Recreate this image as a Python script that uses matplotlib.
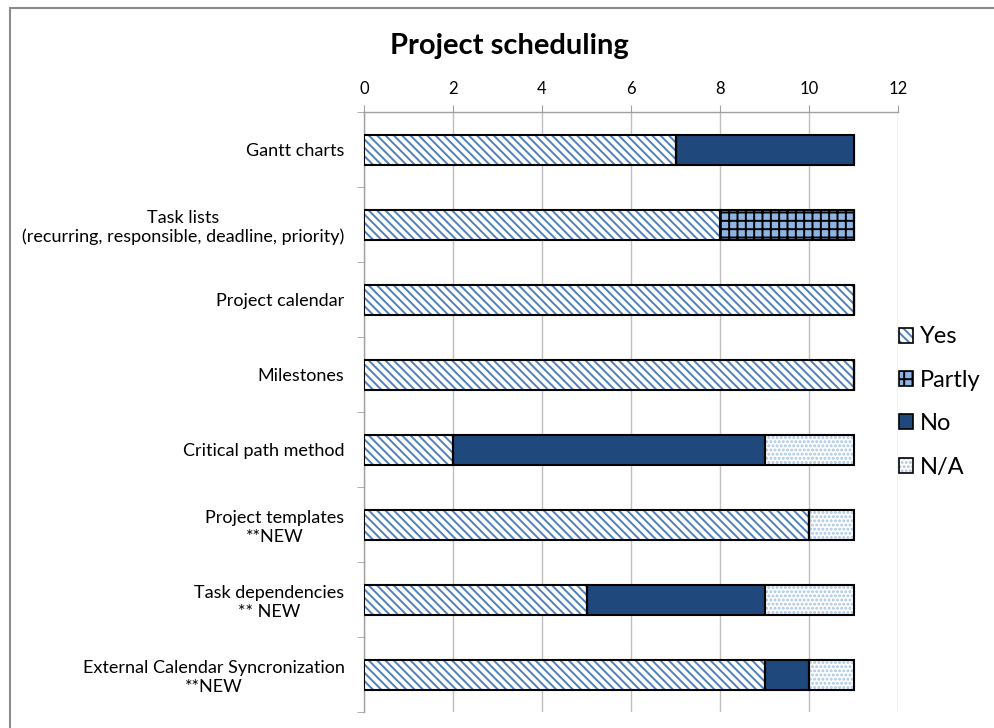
import matplotlib.pyplot as plt
import matplotlib.patches as mpatches
from matplotlib.legend_handler import HandlerTuple
import numpy as np

plt.rcParams['font.family'] = ['Lato', 'DejaVu Sans']
plt.rcParams['hatch.linewidth'] = 1.4

# ---------- data ----------
categories = [
    'Gantt charts',
    'Task lists\n(recurring, responsible, deadline, priority)',
    'Project calendar',
    'Milestones',
    'Critical path method',
    'Project templates\n**NEW',
    'Task dependencies\n** NEW',
    'External Calendar Syncronization\n**NEW',
]
yes = [7, 8, 11, 11, 2, 10, 5, 9]
partly = [0, 3, 0, 0, 0, 0, 0, 0]
no = [4, 0, 0, 0, 7, 0, 4, 1]
na = [0, 0, 0, 0, 2, 1, 2, 1]
xticks = [0, 2, 4, 6, 8, 10, 12]

series = [
    ('Yes', yes, 'white', '#4F81BD', '\\\\\\\\'),
    ('Partly', partly, '#8DB4E2', 'black', '++'),
    ('No', no, '#1F497D', '#1F497D', ''),
    ('N/A', na, 'white', '#A6C4E8', '....'),
]

fig = plt.figure(figsize=(9.95, 7.28), dpi=100)
ax = fig.add_axes([364 / 995, 1 - 712 / 728, (898 - 364) / 995, 600 / 728])

y = np.arange(len(categories))
left = np.zeros(len(categories))
handles = []
for name, vals, fc, hc, hatch in series:
    vals = np.array(vals, dtype=float)
    # hatch layer (edge colour drives hatch colour), then black outline
    ax.barh(y, vals, left=left, height=0.4, color=fc, edgecolor=hc,
            hatch=hatch, linewidth=0, zorder=3)
    ax.barh(y, vals, left=left, height=0.4, fill=False, edgecolor='black',
            linewidth=1.5, zorder=4)
    left += vals
    h1 = mpatches.Patch(facecolor=fc, edgecolor=hc, hatch=hatch, linewidth=0)
    h2 = mpatches.Patch(fill=False, edgecolor='black', linewidth=1.2)
    handles.append((h1, h2))

ax.set_xlim(0, 12)
ax.set_ylim(len(categories) - 0.5, -0.5)
ax.set_xticks(xticks)
ax.xaxis.tick_top()
ax.tick_params(axis='x', length=5, color='#A0A0A0', labelsize=12, pad=6)
ax.set_yticks(y)
ax.set_yticklabels(categories, fontsize=13, multialignment='center')
ax.tick_params(axis='y', which='major', length=0, pad=14)
ax.set_yticks(np.arange(len(categories) + 1) - 0.5, minor=True)
ax.tick_params(axis='y', which='minor', length=5, color='#A0A0A0')
ax.grid(axis='x', color='#BFBFBF', linewidth=1, zorder=0)
ax.set_axisbelow(True)
for s in ['right', 'bottom']:
    ax.spines[s].set_visible(False)
for s in ['left', 'top']:
    ax.spines[s].set_color('#A0A0A0')
    ax.spines[s].set_linewidth(1)

fig.text(509 / 995, 1 - 46 / 728, 'Project scheduling', ha='center', va='center',
         fontsize=21, fontweight='bold')

leg = fig.legend(handles, [s[0] for s in series], loc='center left',
                 bbox_to_anchor=(899 / 995, 1 - 402 / 728), frameon=False,
                 fontsize=17, handler_map={tuple: HandlerTuple(ndivide=1)},
                 handlelength=0.6, handleheight=0.6, handletextpad=0.3,
                 labelspacing=0.95, borderaxespad=0, borderpad=0)

# chart frame
fig.patches.append(mpatches.Rectangle((10 / 995, -0.1), 1.2, 1.1 - 8 / 728,
                                      transform=fig.transFigure, fill=False,
                                      edgecolor='#8C8C8C', linewidth=1.5))

fig.savefig('out.png', dpi=100)
